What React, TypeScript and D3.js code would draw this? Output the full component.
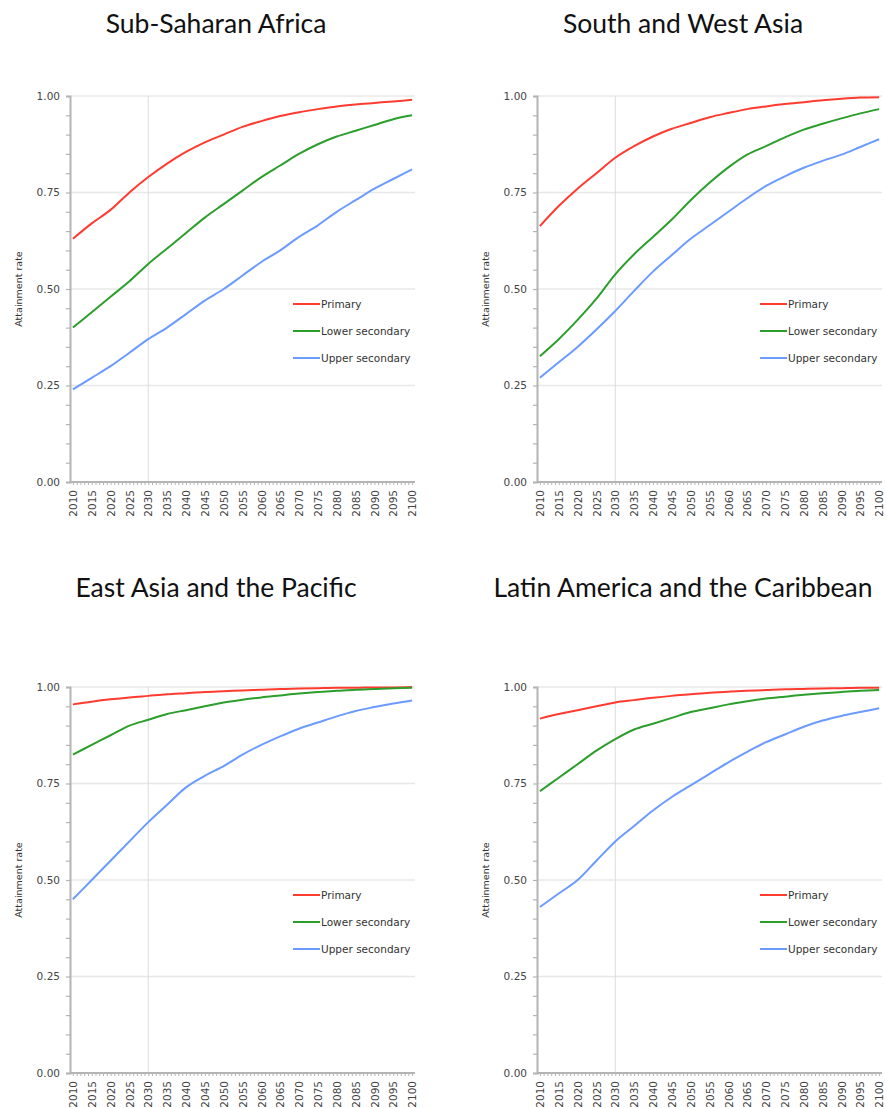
import React, { useEffect, useRef } from "react";
import * as d3 from "d3";

// years shown on the category axis
const years = d3.range(2010, 2101);
const labelYears = d3.range(2010, 2101, 5);

// values read every 5 years (2010 .. 2100)
const ssaPrimary = [0.63, 0.67, 0.705, 0.75, 0.79, 0.825, 0.855, 0.88, 0.9, 0.92, 0.935, 0.948, 0.958, 0.966, 0.973, 0.978, 0.982, 0.986, 0.99];
const ssaLower = [0.4, 0.44, 0.48, 0.52, 0.565, 0.605, 0.645, 0.685, 0.72, 0.755, 0.79, 0.82, 0.85, 0.875, 0.895, 0.91, 0.925, 0.94, 0.95];
const ssaUpper = [0.24, 0.27, 0.3, 0.335, 0.37, 0.4, 0.435, 0.47, 0.5, 0.535, 0.57, 0.6, 0.635, 0.665, 0.7, 0.73, 0.76, 0.785, 0.81];

const swaPrimary = [0.663, 0.715, 0.76, 0.8, 0.84, 0.87, 0.895, 0.915, 0.93, 0.945, 0.956, 0.966, 0.973, 0.979, 0.984, 0.989, 0.993, 0.996, 0.997];
const swaLower = [0.326, 0.37, 0.42, 0.475, 0.538, 0.59, 0.635, 0.68, 0.73, 0.775, 0.815, 0.848, 0.87, 0.893, 0.913, 0.928, 0.942, 0.955, 0.966];
const swaUpper = [0.27, 0.31, 0.35, 0.395, 0.443, 0.495, 0.545, 0.588, 0.63, 0.665, 0.7, 0.735, 0.767, 0.792, 0.814, 0.832, 0.848, 0.868, 0.888];

const eapPrimary = [0.955, 0.962, 0.968, 0.973, 0.977, 0.981, 0.984, 0.987, 0.989, 0.991, 0.993, 0.995, 0.996, 0.997, 0.998, 0.998, 0.999, 0.999, 1.0];
const eapLower = [0.825, 0.85, 0.875, 0.9, 0.915, 0.93, 0.94, 0.95, 0.96, 0.967, 0.973, 0.978, 0.983, 0.987, 0.99, 0.993, 0.995, 0.997, 0.998];
const eapUpper = [0.45, 0.5, 0.55, 0.6, 0.65, 0.695, 0.74, 0.77, 0.795, 0.825, 0.85, 0.872, 0.892, 0.908, 0.924, 0.938, 0.948, 0.957, 0.965];

const lacPrimary = [0.918, 0.93, 0.94, 0.95, 0.96, 0.966, 0.972, 0.977, 0.981, 0.985, 0.988, 0.99, 0.992, 0.994, 0.995, 0.996, 0.997, 0.998, 0.998];
const lacLower = [0.73, 0.765, 0.8, 0.835, 0.865, 0.89, 0.905, 0.92, 0.935, 0.945, 0.955, 0.963, 0.97, 0.975, 0.98, 0.984, 0.987, 0.99, 0.992];
const lacUpper = [0.43, 0.465, 0.5, 0.55, 0.6, 0.64, 0.68, 0.715, 0.745, 0.775, 0.805, 0.832, 0.857, 0.877, 0.897, 0.913, 0.925, 0.935, 0.945];

const seriesNames = ["Primary", "Lower secondary", "Upper secondary"];
const seriesColors = ["#ff3b30", "#2b9e2b", "#6b9bff"];

const panels = [
  { title: "Sub-Saharan Africa", series: [ssaPrimary, ssaLower, ssaUpper], left: 70, top: 96, titleY: 33 },
  { title: "South and West Asia", series: [swaPrimary, swaLower, swaUpper], left: 537, top: 96, titleY: 33 },
  { title: "East Asia and the Pacific", series: [eapPrimary, eapLower, eapUpper], left: 70, top: 687, titleY: 597 },
  { title: "Latin America and the Caribbean", series: [lacPrimary, lacLower, lacUpper], left: 537, top: 687, titleY: 597 },
];

const Panel = ({ title, series, left, top, titleY }) => {
  const gRef = useRef();

  useEffect(() => {
    const g = d3.select(gRef.current);
    g.selectAll("*").remove();

    const width = 343;
    const height = 386;
    const bottom = top + height;
    const axisGray = "#b4b4b4";

    const x = d3.scalePoint().domain(years).range([left + 1, left + width + 1]).padding(0.5);
    const y = d3.scaleLinear().domain([0, 1]).range([bottom, top]);

    // title
    g.append("text")
      .attr("x", left + 146)
      .attr("y", titleY)
      .attr("text-anchor", "middle")
      .style("font-family", "Lato, 'Open Sans', sans-serif")
      .style("font-size", "26.5px")
      .attr("fill", "#111")
      .text(title);

    // horizontal grid
    g.selectAll(".grid")
      .data([0.25, 0.5, 0.75, 1])
      .enter()
      .append("line")
      .attr("x1", left)
      .attr("x2", left + width + 2)
      .attr("y1", (d) => y(d))
      .attr("y2", (d) => y(d))
      .attr("stroke", "#e8e8e8")
      .attr("stroke-width", 1.5);

    // 2030 marker
    g.append("line")
      .attr("x1", x(2030))
      .attr("x2", x(2030))
      .attr("y1", top)
      .attr("y2", bottom)
      .attr("stroke", "#dcdcdc")
      .attr("stroke-width", 1);

    // y axis
    const yAxis = d3
      .axisLeft(y)
      .tickValues(d3.range(0, 1.001, 0.05))
      .tickSize(4)
      .tickFormat((d) => (Math.round(d * 100) % 25 === 0 ? d3.format(".2f")(d) : ""));
    const ya = g.append("g").attr("transform", `translate(${left},0)`).call(yAxis);
    ya.select(".domain").attr("stroke", axisGray).attr("stroke-width", 2);
    ya.selectAll(".tick line").attr("stroke", axisGray).attr("stroke-width", 1.2);
    ya.selectAll(".tick text")
      .attr("x", -10)
      .attr("fill", "#444")
      .style("font-family", "'DejaVu Sans', sans-serif")
      .style("font-size", "10.5px");

    // x axis
    const xAxis = d3
      .axisBottom(x)
      .tickSize(3)
      .tickFormat((d) => (labelYears.includes(d) ? String(d) : ""));
    const xa = g.append("g").attr("transform", `translate(0,${bottom})`).call(xAxis);
    xa.select(".domain").attr("d", `M${left},0H${left + width + 2}`).attr("stroke", axisGray).attr("stroke-width", 2);
    xa.selectAll(".tick line").attr("stroke", axisGray).attr("stroke-width", 1);
    xa.selectAll(".tick text")
      .attr("transform", "rotate(-90)")
      .attr("x", -8)
      .attr("y", 0)
      .attr("dy", "0.35em")
      .attr("text-anchor", "end")
      .attr("fill", "#444")
      .style("font-family", "'DejaVu Sans', sans-serif")
      .style("font-size", "10.5px");

    // y axis title
    g.append("text")
      .attr("transform", `translate(${left - 48},${y(0.5)}) rotate(-90)`)
      .attr("text-anchor", "middle")
      .attr("fill", "#333")
      .style("font-family", "'DejaVu Sans', sans-serif")
      .style("font-size", "9.5px")
      .text("Attainment rate");

    // lines
    const line = d3
      .line()
      .x((d, i) => x(labelYears[i]))
      .y((d) => y(d))
      .curve(d3.curveMonotoneX);

    series.forEach((values, i) => {
      g.append("path")
        .attr("d", line(values))
        .attr("fill", "none")
        .attr("stroke", seriesColors[i])
        .attr("stroke-width", 2);
    });

    // legend
    seriesNames.forEach((name, i) => {
      const ly = top + 208 + i * 27;
      g.append("line")
        .attr("x1", left + 223)
        .attr("x2", left + 250)
        .attr("y1", ly)
        .attr("y2", ly)
        .attr("stroke", seriesColors[i])
        .attr("stroke-width", 2);
      g.append("text")
        .attr("x", left + 251)
        .attr("y", ly)
        .attr("dy", "0.35em")
        .attr("fill", "#333")
        .style("font-family", "'DejaVu Sans', sans-serif")
        .style("font-size", "10.5px")
        .text(name);
    });
  }, [title, series, left, top, titleY]);

  return <g ref={gRef}></g>;
};

const App = () => {
  return (
    <svg
      width="886"
      height="1108"
      style={{ position: "absolute", left: 0, top: 0, background: "#fff" }}
    >
      {panels.map((p) => (
        <Panel key={p.title} {...p} />
      ))}
    </svg>
  );
};

export default App;
